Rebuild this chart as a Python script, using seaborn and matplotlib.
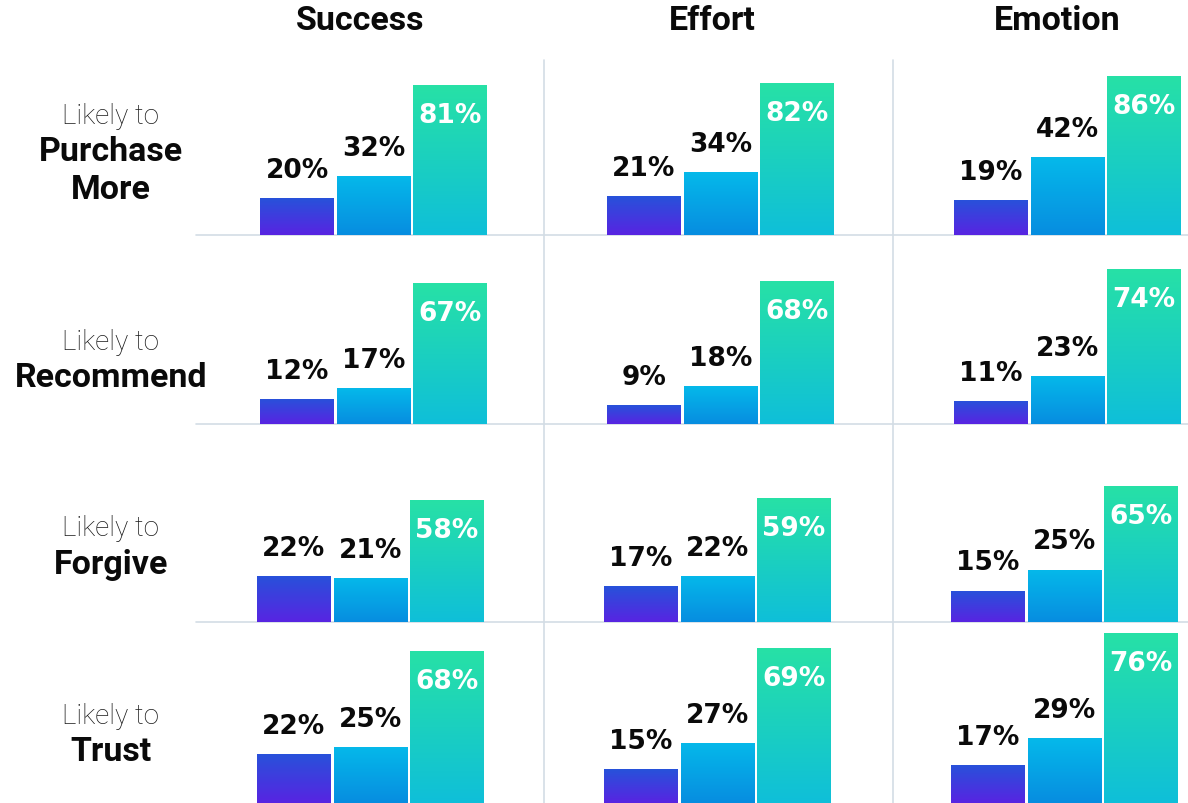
import numpy as np
import pandas as pd
import matplotlib
matplotlib.use("Agg")
import matplotlib.pyplot as plt
import seaborn as sns
from matplotlib.lines import Line2D

# data
metrics = ["Success", "Effort", "Emotion"]
outcomes = [("Likely to", "Purchase\nMore"), ("Likely to", "Recommend"),
            ("Likely to", "Forgive"), ("Likely to", "Trust")]
groups = ["Low", "Mid", "High"]
# values[row][col] -> three bars
values = [
    [[20, 32, 81], [21, 34, 82], [19, 42, 86]],
    [[12, 17, 67], [9, 18, 68], [11, 23, 74]],
    [[22, 21, 58], [17, 22, 59], [15, 25, 65]],
    [[22, 25, 68], [15, 27, 69], [17, 29, 76]],
]
# gradient (top, bottom) per bar group
grad_top = ["#2752DA", "#05B9EA", "#27E1A6"]
grad_bot = ["#5824E2", "#078DE0", "#0FBFD9"]

W, H = 1188, 804
fig = plt.figure(figsize=(W / 100, H / 100), dpi=100)
sns.set_style("white")
plt.rcParams["font.family"] = ["DejaVu Sans"]


def fx(px):
    return px / W


def fy(py):
    return 1 - py / H


col_left = [196, 544, 893]
col_right = [544, 893, 1188]
bar0_center = [297, 644, 991]
row_base = [236, 425, 623, 804]
row_top = [46, 236, 425, 623]
row_scale = [1.85, 2.1, 2.1, 2.24]   # px per percent
row_shift = [0, 0, -3, -3]
pitch = 76.5
grid_c = "#D3DDE5"


def hex2rgb(h):
    return np.array(matplotlib.colors.to_rgb(h))


for r in range(4):
    for c in range(3):
        left, right = col_left[c], col_right[c]
        ax = fig.add_axes([fx(left), fy(row_base[r]), fx(right - left),
                           (row_base[r] - row_top[r]) / H])
        ax.patch.set_alpha(0)
        df = pd.DataFrame({"group": groups, "value": values[r][c]})
        sns.barplot(data=df, x="group", y="value", hue="group", order=groups,
                    hue_order=groups, palette=grad_top, width=74 / pitch,
                    legend=False, ax=ax, linewidth=0, saturation=1)
        x0 = -(bar0_center[c] + row_shift[r] - left) / pitch
        xlim = (x0, x0 + (right - left) / pitch)
        ylim = (0, (row_base[r] - row_top[r]) / row_scale[r])
        bars = sorted(ax.patches, key=lambda p: p.get_x())
        for i, p in enumerate(bars):
            bx, bw, bh = p.get_x(), p.get_width(), p.get_height()
            t = np.linspace(0, 1, 128)[:, None]
            img = (hex2rgb(grad_bot[i]) * (1 - t) + hex2rgb(grad_top[i]) * t)[:, None, :]
            im = ax.imshow(img, extent=(bx, bx + bw, 0, bh), origin="lower",
                           aspect="auto", interpolation="bilinear", zorder=2)
            im.set_clip_path(p)
            p.set_facecolor("none")
            v = values[r][c][i]
            if i < 2:
                ax.annotate(f"{v}%", (bx + bw / 2, bh), xytext=(0, 21 * 0.72),
                            textcoords="offset points", ha="center", va="baseline",
                            fontsize=19, fontweight="bold", color="#0A0A0A",
                            annotation_clip=False)
            else:
                ax.annotate(f"{v}%", (bx + bw / 2, bh), xytext=(0, -37 * 0.72),
                            textcoords="offset points", ha="center", va="baseline",
                            fontsize=19, fontweight="bold", color="white",
                            annotation_clip=False, zorder=5)
        ax.set_xlim(xlim)
        ax.set_ylim(ylim)
        ax.axis("off")

# separators
for r in range(3):
    fig.add_artist(Line2D([fx(196), 1], [fy(row_base[r])] * 2, color=grid_c, lw=1.2, zorder=0))
for xs in [544, 893]:
    fig.add_artist(Line2D([fx(xs)] * 2, [fy(61), 0], color=grid_c, lw=1.2, zorder=0))

# column titles
title_x = [360, 712, 1057]
for c, m in enumerate(metrics):
    fig.text(fx(title_x[c]), fy(21), m, ha="center", va="center", fontsize=24.5,
             fontweight="bold", family=["Roboto", "DejaVu Sans"], color="#0A0A0A")

# row labels
light_y = [117, 343, 529, 717]
bold_y = [171, 378, 565, 752]
for r, (lt, bt) in enumerate(outcomes):
    fig.text(fx(111), fy(light_y[r]), lt, ha="center", va="center", fontsize=20,
             fontweight="light", family=["Roboto", "DejaVu Sans"], color="#1A1A1A")
    fig.text(fx(111), fy(bold_y[r]), bt, ha="center", va="center", fontsize=24.5,
             fontweight="bold", family=["Roboto", "DejaVu Sans"], color="#0A0A0A",
             linespacing=1.25)

fig.savefig("out.png", dpi=100)
